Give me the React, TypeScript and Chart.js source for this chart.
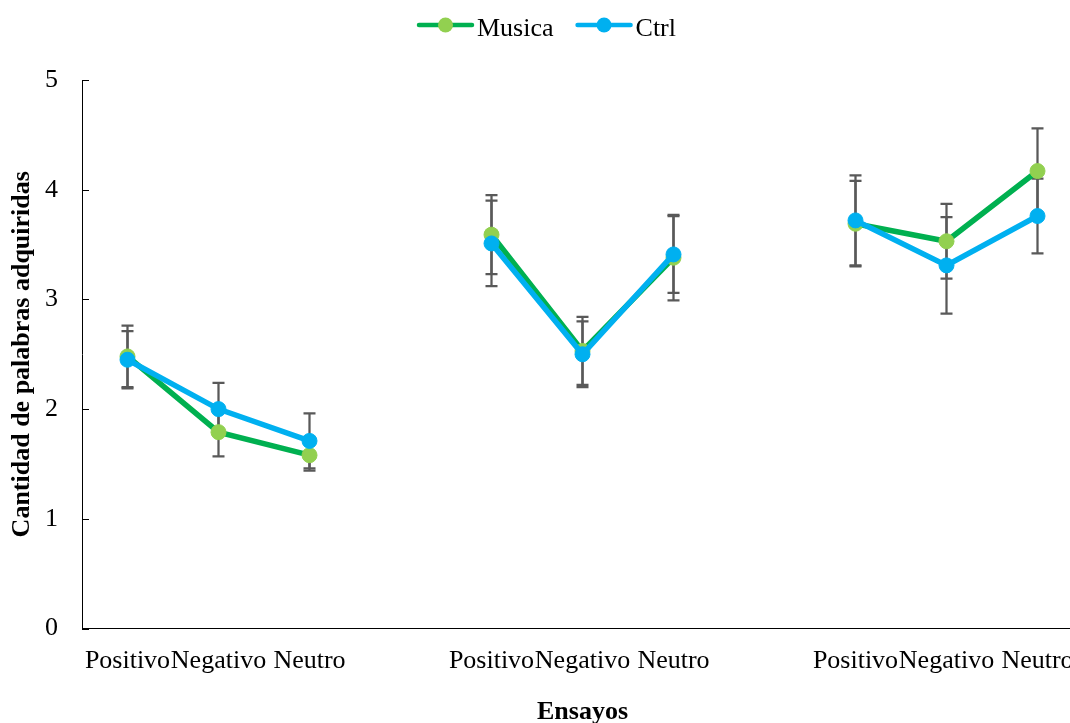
import React, { useEffect, useRef } from "react";
import { Chart, registerables } from "chart.js";

Chart.register(...registerables);

const categories = ["Positivo", "Negativo", "Neutro", "", "Positivo", "Negativo", "Neutro", "", "Positivo", "Negativo", "Neutro"];
const musicaValues = [2.48, 1.79, 1.58, null, 3.59, 2.53, 3.38, null, 3.69, 3.53, 4.17];
const musicaErrors = [0.28, 0.22, 0.14, null, 0.36, 0.31, 0.39, null, 0.39, 0.34, 0.39];
const ctrlValues = [2.45, 2.0, 1.71, null, 3.51, 2.5, 3.41, null, 3.72, 3.31, 3.76];
const ctrlErrors = [0.26, 0.24, 0.25, null, 0.39, 0.3, 0.35, null, 0.41, 0.44, 0.34];
const yTicks = [0, 1, 2, 3, 4, 5];

const FONT = '"Liberation Serif", "Times New Roman", serif';
const GREEN_LINE = "#00B050";
const GREEN_POINT = "#92D050";
const BLUE = "#00B0F0";
const ERR_COLOR = "#595959";

const errorBarPlugin = {
  id: "errorBars",
  beforeDatasetsDraw(chart: any) {
    const ctx = chart.ctx;
    const x = chart.scales.x;
    const y = chart.scales.y;
    ctx.save();
    ctx.strokeStyle = ERR_COLOR;
    ctx.lineWidth = 2.25;
    chart.data.datasets.forEach((ds: any) => {
      const errs = ds.errors as (number | null)[];
      ds.data.forEach((v: number | null, i: number) => {
        const e = errs[i];
        if (v == null || e == null) return;
        const px = x.getPixelForValue(i);
        const top = y.getPixelForValue(v + e);
        const bot = y.getPixelForValue(v - e);
        ctx.beginPath();
        ctx.moveTo(px, top);
        ctx.lineTo(px, bot);
        ctx.moveTo(px - 6, top);
        ctx.lineTo(px + 6, top);
        ctx.moveTo(px - 6, bot);
        ctx.lineTo(px + 6, bot);
        ctx.stroke();
      });
    });
    ctx.restore();
  },
};

const insideTicksPlugin = {
  id: "insideTicks",
  afterDraw(chart: any) {
    const ctx = chart.ctx;
    const y = chart.scales.y;
    const left = chart.chartArea.left;
    ctx.save();
    ctx.strokeStyle = "#000";
    ctx.lineWidth = 1;
    y.ticks.forEach((t: any) => {
      const py = Math.round(y.getPixelForValue(t.value)) + 0.5;
      ctx.beginPath();
      ctx.moveTo(left, py);
      ctx.lineTo(left + 7, py);
      ctx.stroke();
    });
    ctx.restore();
  },
};

const legendPlugin = {
  id: "customLegend",
  afterDraw(chart: any) {
    const ctx = chart.ctx;
    ctx.save();
    ctx.font = `26px ${FONT}`;
    const items = chart.data.datasets.map((ds: any) => ({
      label: ds.label,
      line: ds.borderColor,
      point: ds.pointBackgroundColor,
      w: 57 + 3 + ctx.measureText(ds.label).width,
    }));
    const gap = 22;
    const total = items.reduce((s: number, it: any) => s + it.w, 0) + gap * (items.length - 1);
    let x = chart.width / 2 - total / 2;
    const cy = 25;
    items.forEach((it: any) => {
      ctx.strokeStyle = it.line;
      ctx.lineWidth = 4.5;
      ctx.lineCap = "round";
      ctx.beginPath();
      ctx.moveTo(x + 2, cy);
      ctx.lineTo(x + 55, cy);
      ctx.stroke();
      ctx.fillStyle = it.point;
      ctx.beginPath();
      ctx.arc(x + 28.5, cy, 7.5, 0, Math.PI * 2);
      ctx.fill();
      ctx.fillStyle = "#000";
      ctx.textBaseline = "alphabetic";
      ctx.textAlign = "left";
      ctx.fillText(it.label, x + 60, 35.5);
      x += it.w + gap;
    });
    ctx.restore();
  },
};

export default function App() {
  const ref = useRef<HTMLCanvasElement | null>(null);
  useEffect(() => {
    if (!ref.current) return;
    Chart.defaults.font.family = FONT;
    const chart = new Chart(ref.current, {
      type: "line",
      data: {
        labels: categories,
        datasets: [
          {
            label: "Musica",
            data: musicaValues,
            errors: musicaErrors,
            borderColor: GREEN_LINE,
            backgroundColor: GREEN_POINT,
            pointBackgroundColor: GREEN_POINT,
            pointBorderColor: GREEN_POINT,
            borderWidth: 5.5,
            pointRadius: 7.5,
            pointBorderWidth: 1,
            spanGaps: false,
            order: 1,
          } as any,
          {
            label: "Ctrl",
            data: ctrlValues,
            errors: ctrlErrors,
            borderColor: BLUE,
            backgroundColor: BLUE,
            pointBackgroundColor: BLUE,
            pointBorderColor: BLUE,
            borderWidth: 5.5,
            pointRadius: 7.5,
            pointBorderWidth: 1,
            spanGaps: false,
            order: 0,
          } as any,
        ],
      },
      options: {
        responsive: false,
        animation: false,
        layout: { padding: { top: 80, right: 10, bottom: 0, left: 0 } },
        plugins: { legend: { display: false }, tooltip: { enabled: false } },
        scales: {
          x: {
            type: "category",
            offset: true,
            grid: { display: false, drawTicks: false },
            border: { display: true, color: "#000", width: 1 },
            ticks: {
              color: "#000",
              font: { size: 26, family: FONT },
              maxRotation: 0,
              minRotation: 0,
              autoSkip: false,
              padding: 17,
            },
            title: {
              display: true,
              text: "Ensayos",
              color: "#000",
              font: { size: 26, weight: "bold", family: FONT, lineHeight: 1 },
              padding: { top: 0, bottom: -2 },
            },
            afterFit(scale: any) {
              scale.height = 94.5;
            },
          },
          y: {
            min: 0,
            max: 5,
            afterBuildTicks(scale: any) {
              scale.ticks = yTicks.map((v) => ({ value: v }));
            },
            grid: { display: false, drawTicks: false },
            border: { display: true, color: "#000", width: 1 },
            ticks: {
              color: "#000",
              font: { size: 26, family: FONT },
              padding: 24,
            },
            title: {
              display: true,
              text: "Cantidad de palabras adquiridas",
              color: "#000",
              font: { size: 26, weight: "bold", family: FONT, lineHeight: 1 },
              padding: { top: 9, bottom: 0 },
            },
            afterFit(scale: any) {
              scale.width = 82;
            },
          },
        },
      } as any,
      plugins: [errorBarPlugin, insideTicksPlugin, legendPlugin],
    });
    return () => chart.destroy();
  }, []);
  return (
    <div style={{ position: "absolute", left: 0, top: 0, width: 1070, height: 723, overflow: "hidden", background: "#fff" }}>
      <canvas ref={ref} width={1093} height={723} style={{ display: "block" }} />
    </div>
  );
}
